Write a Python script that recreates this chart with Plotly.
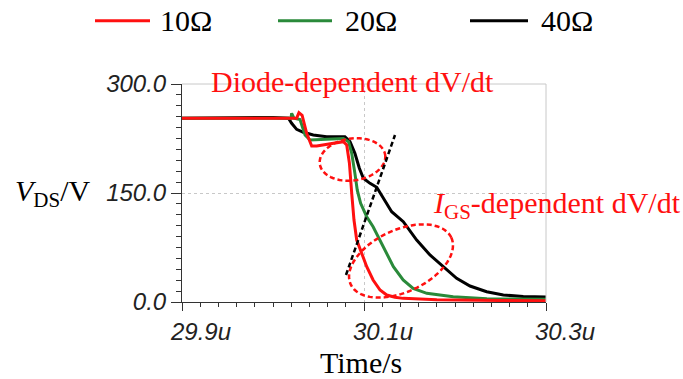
import numpy as np
import plotly.graph_objects as go

# ---- data (time in microseconds, V_DS in volts) ----
t_10 = [29.9, 30.026, 30.0285, 30.032, 30.037, 30.0425, 30.048, 30.0626, 30.0773, 30.081,
        30.084, 30.0865, 30.089, 30.092, 30.0975, 30.103, 30.110, 30.1176, 30.125, 30.134,
        30.143, 30.18, 30.253, 30.3]
v_10 = [253, 253, 260.5, 257, 232, 214.7, 214.7, 217.4, 220.6, 216,
        190.8, 149.5, 112.8, 85.3, 67, 48.6, 30.3, 16.5, 9.6, 6.5,
        5, 3, 2, 1.8]

t_20 = [29.9, 30.0198, 30.0205, 30.023, 30.0297, 30.0352, 30.0407, 30.055, 30.0773, 30.083,
        30.0865, 30.090, 30.0926, 30.0963, 30.103, 30.110, 30.1176, 30.125, 30.1323, 30.143,
        30.154, 30.169, 30.198, 30.235, 30.3]
v_20 = [253, 253, 259.7, 253, 251, 229.8, 223, 224, 225, 220.6,
        204.6, 177, 154, 135.8, 117.4, 103.6, 85.3, 67, 48.6, 30.3,
        18.8, 11.9, 7.3, 4.6, 3.7]

t_40 = [29.9, 30.0004, 30.017, 30.0205, 30.026, 30.0333, 30.0443, 30.059, 30.079, 30.0846,
        30.090, 30.0949, 30.0993, 30.1066, 30.114, 30.1213, 30.1304, 30.1432, 30.1579, 30.1725,
        30.1872, 30.2018, 30.2165, 30.2348, 30.2531, 30.275, 30.3]
v_40 = [253, 254, 253, 245.9, 237.6, 233.5, 229.8, 227.5, 227.5, 220.6,
        204.6, 184, 170.2, 163.3, 157.8, 142.7, 124.3, 110.5, 85.3, 64.7,
        48.6, 32.6, 22, 14.2, 9.6, 7.5, 7]

series_names = ["10Ω", "20Ω", "40Ω"]
series_colors = ["#ff1010", "#2a8a3a", "#000000"]

x_range = [29.9, 30.3]
y_range = [0, 300]

fig = go.Figure()
for t, v, name, col in [(t_40, v_40, series_names[2], series_colors[2]),
                        (t_20, v_20, series_names[1], series_colors[1]),
                        (t_10, v_10, series_names[0], series_colors[0])]:
    fig.add_trace(go.Scatter(x=t, y=v, mode="lines", name=name,
                             line=dict(color=col, width=3),
                             showlegend=False))

# ---- geometry helpers (plot area in page pixels) ----
L, R, T, B = 182, 546, 84, 302
W_PX, H_PX = R - L, B - T


def px2data(px, py):
    t = x_range[0] + (px - L) / W_PX * (x_range[1] - x_range[0])
    v = y_range[0] + (B - py) / H_PX * (y_range[1] - y_range[0])
    return t, v


def xp(px):
    return (px - L) / W_PX


def yp(py):
    return (B - py) / H_PX


def ellipse_path(cx, cy, a, b, ang_deg, n=80):
    th = np.linspace(0, 2 * np.pi, n)
    ang = np.deg2rad(ang_deg)
    ex = a * np.cos(th)
    ey = b * np.sin(th)
    px = cx + ex * np.cos(ang) + ey * np.sin(ang)
    py = cy - ex * np.sin(ang) + ey * np.cos(ang)
    pts = [px2data(x, y) for x, y in zip(px, py)]
    return "M " + " L ".join(f"{x:.5f},{y:.3f}" for x, y in pts) + " Z"


shapes = []
# plot frame (top & right light grey)
shapes.append(dict(type="line", xref="paper", yref="paper", x0=0, x1=1, y0=1, y1=1,
                   line=dict(color="#c8c8c8", width=1)))
shapes.append(dict(type="line", xref="paper", yref="paper", x0=1, x1=1, y0=0, y1=1,
                   line=dict(color="#c8c8c8", width=1)))
# dashed red ellipses
shapes.append(dict(type="path", xref="x", yref="y", path=ellipse_path(352.5, 159.5, 33, 21, 8),
                   line=dict(color="#ff1010", width=2.5, dash="5px,3px")))
shapes.append(dict(type="path", xref="x", yref="y", path=ellipse_path(401, 261, 55.5, 31, 25),
                   line=dict(color="#ff1010", width=2.5, dash="5px,3px")))
# black dashed slope line
x0d, y0d = px2data(346, 275)
x1d, y1d = px2data(395, 135)
shapes.append(dict(type="line", xref="x", yref="y", x0=x0d, y0=y0d, x1=x1d, y1=y1d,
                   line=dict(color="#000000", width=2.5, dash="5px,3px")))

# manual legend
leg_y = yp(20.7)
leg_lines = [(95, 150, 158), (278, 332, 343), (470, 528, 539)]
annotations = []
for (a0, a1, tx), name, col in zip(leg_lines, series_names, series_colors):
    shapes.append(dict(type="line", xref="paper", yref="paper", x0=xp(a0), x1=xp(a1),
                       y0=leg_y, y1=leg_y, line=dict(color=col, width=3)))
    annotations.append(dict(xref="paper", yref="paper", x=xp(tx), y=leg_y, text=name,
                            showarrow=False, xanchor="left", yanchor="middle",
                            font=dict(family="Liberation Serif", size=30, color="#000")))

serif = "Liberation Serif"
annotations += [
    dict(xref="paper", yref="paper", x=xp(53), y=yp(193), text="<i>V</i><sub>DS</sub>/V",
         showarrow=False, xanchor="center", yanchor="middle",
         font=dict(family=serif, size=30, color="#000")),
    dict(xref="paper", yref="paper", x=xp(361), y=yp(362), text="Time/s",
         showarrow=False, xanchor="center", yanchor="middle",
         font=dict(family=serif, size=30, color="#000")),
    dict(xref="paper", yref="paper", x=xp(352.5), y=yp(81), text="Diode-dependent dV/dt",
         showarrow=False, xanchor="center", yanchor="middle",
         font=dict(family=serif, size=30, color="#ff1010")),
    dict(xref="paper", yref="paper", x=xp(557), y=yp(205), text="<i>I</i><sub>GS</sub>-dependent dV/dt",
         showarrow=False, xanchor="center", yanchor="middle",
         font=dict(family=serif, size=30, color="#ff1010")),
]

tick_font = dict(family="Liberation Sans", size=24, color="#222", style="italic")

fig.update_layout(
    width=683, height=379,
    margin=dict(l=L, r=683 - R, t=T, b=379 - B, pad=0),
    paper_bgcolor="white", plot_bgcolor="white",
    shapes=shapes, annotations=annotations,
    xaxis=dict(range=x_range, tickmode="linear", tick0=29.9, dtick=0.2,
               tickformat=".1f", ticksuffix="u", tickfont=tick_font,
               ticklabelshift=19,
               showline=True, linecolor="#333", linewidth=1,
               ticks="outside", ticklen=8, tickcolor="#333",
               showgrid=True, gridcolor="#c8c8c8", griddash="dot", gridwidth=1,
               zeroline=False,
               minor=dict(dtick=0.02, ticks="outside", ticklen=4, tickcolor="#333", showgrid=False)),
    yaxis=dict(range=y_range, tickmode="linear", tick0=0, dtick=150,
               tickformat=".1f", tickfont=tick_font,
               showline=True, linecolor="#333", linewidth=1,
               ticks="outside", ticklen=10, tickcolor="#333",
               showgrid=True, gridcolor="#c8c8c8", griddash="dot", gridwidth=1,
               zeroline=False,
               minor=dict(dtick=15, ticks="outside", ticklen=5, tickcolor="#333", showgrid=False)),
)

fig.write_html("out.html")
